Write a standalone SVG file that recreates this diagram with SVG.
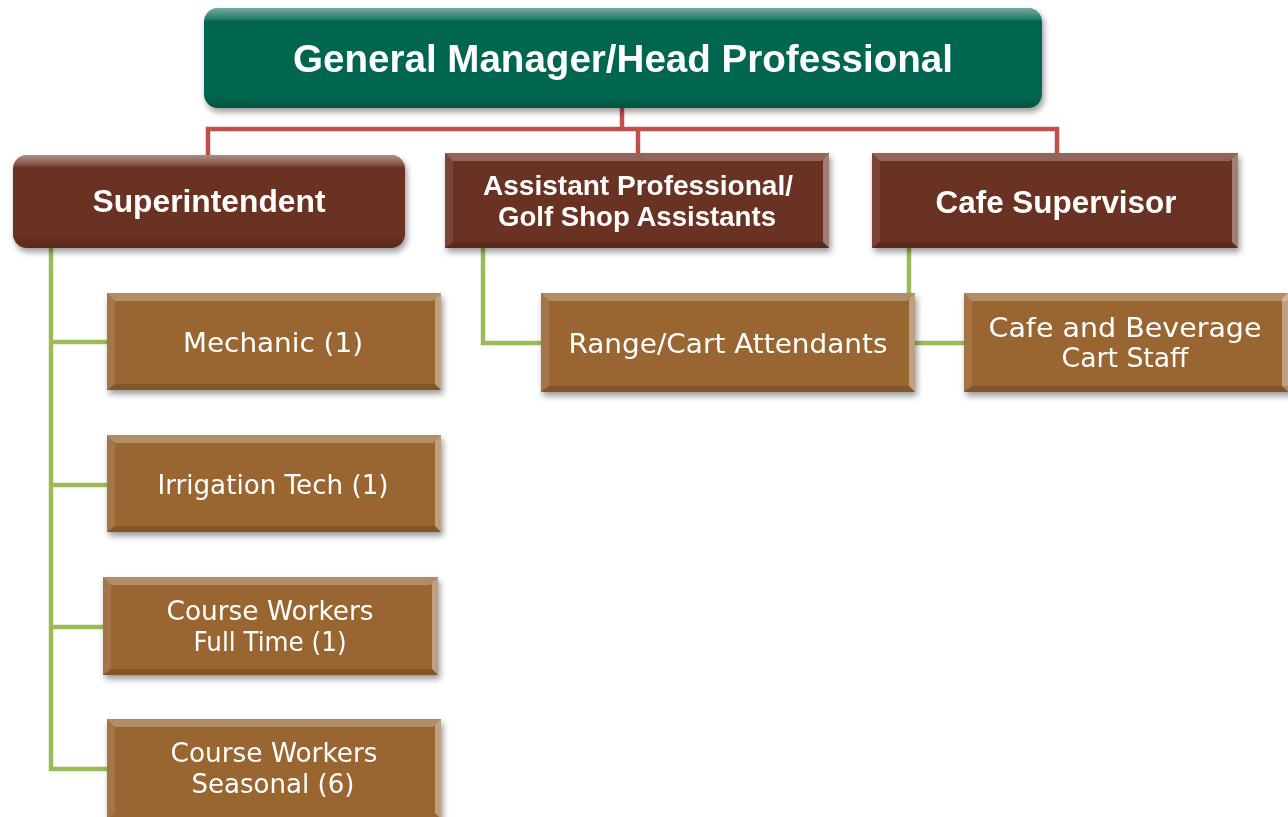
<svg xmlns="http://www.w3.org/2000/svg" width="1288" height="817" viewBox="0 0 1288 817">
  <style>
    .lineRed { fill: none; stroke: #c0504d; stroke-width: 4.5; }
    .lineGreen { fill: none; stroke: #9bbb59; stroke-width: 4.5; }
    .teal { fill: #00664f; }
    .maroon { fill: #6b3021; }
    .tan { fill: #996633; }
    .bvTop { fill: #ffffff; fill-opacity: 0.26; }
    .bvRight { fill: #ffffff; fill-opacity: 0.38; }
    .bvLeft { fill: #ffffff; fill-opacity: 0.1; }
    .bvBottom { fill: #000000; fill-opacity: 0.14; }
    .head { font-family: "Liberation Sans", Arial, sans-serif; font-weight: bold; fill: #ffffff; text-anchor: middle; }
    .body { font-family: "DejaVu Sans", "Liberation Sans", sans-serif; fill: #ffffff; text-anchor: middle; font-size: 27px; }
  </style>
  <defs>
    <filter id="shadow" x="-5%" y="-10%" width="112%" height="130%">
      <feDropShadow dx="2" dy="4" stdDeviation="3" flood-color="#000000" flood-opacity="0.4"/>
    </filter>
    <linearGradient id="roundShade" x1="0" y1="0" x2="0" y2="1">
      <stop offset="0" stop-color="#ffffff" stop-opacity="0.45"/>
      <stop offset="0.1" stop-color="#ffffff" stop-opacity="0.18"/>
      <stop offset="0.14" stop-color="#ffffff" stop-opacity="0"/>
      <stop offset="0.88" stop-color="#000000" stop-opacity="0"/>
      <stop offset="1" stop-color="#000000" stop-opacity="0.18"/>
    </linearGradient>
  </defs>

  <!-- connectors -->
  <g id="connectors">
    <path class="lineRed" d="M622 108 V129 M208 157 V129 H1057 V155 M638 129 V155"/>
    <path class="lineGreen" d="M51 248 V769 H107 M51 342 H107 M51 485 H107 M51 627 H103"/>
    <path class="lineGreen" d="M483 248 V343 H541"/>
    <path class="lineGreen" d="M909 248 V343 H964"/>
  </g>

  <!-- top level -->
  <g id="general-manager" filter="url(#shadow)">
    <rect class="teal" x="204" y="8" width="838" height="100" rx="14"/>
    <rect x="204" y="8" width="838" height="100" rx="14" fill="url(#roundShade)"/>
    <text class="head" x="623" y="72" font-size="38" textLength="660" lengthAdjust="spacingAndGlyphs">General Manager/Head Professional</text>
  </g>

  <!-- second level -->
  <g id="superintendent" filter="url(#shadow)">
    <rect class="maroon" x="13" y="155" width="392" height="93" rx="14"/>
    <rect x="13" y="155" width="392" height="93" rx="14" fill="url(#roundShade)"/>
    <text class="head" x="209" y="212" font-size="32" textLength="233" lengthAdjust="spacingAndGlyphs">Superintendent</text>
  </g>

  <g id="assistant-professional" filter="url(#shadow)">
    <rect class="maroon" x="445" y="153" width="384" height="95"/>
    <polygon class="bvTop" points="445,153 829,153 821,161 453,161"/>
    <polygon class="bvRight" points="829,153 829,248 823,242 823,159"/>
    <polygon class="bvLeft" points="445,153 453,161 453,242 445,248"/>
    <polygon class="bvBottom" points="445,248 829,248 823,242 453,242"/>
    <text class="head" x="638" y="195" font-size="28" textLength="310" lengthAdjust="spacingAndGlyphs">Assistant Professional/</text>
    <text class="head" x="637" y="226" font-size="28" textLength="278" lengthAdjust="spacingAndGlyphs">Golf Shop Assistants</text>
  </g>

  <g id="cafe-supervisor" filter="url(#shadow)">
    <rect class="maroon" x="872" y="153" width="366" height="95"/>
    <polygon class="bvTop" points="872,153 1238,153 1230,161 880,161"/>
    <polygon class="bvRight" points="1238,153 1238,248 1232,242 1232,159"/>
    <polygon class="bvLeft" points="872,153 880,161 880,242 872,248"/>
    <polygon class="bvBottom" points="872,248 1238,248 1232,242 880,242"/>
    <text class="head" x="1056" y="213" font-size="32" textLength="241" lengthAdjust="spacingAndGlyphs">Cafe Supervisor</text>
  </g>

  <!-- third level -->
  <g id="mechanic" filter="url(#shadow)">
    <rect class="tan" x="107" y="293" width="334" height="97"/>
    <polygon class="bvTop" points="107,293 441,293 433,301 115,301"/>
    <polygon class="bvRight" points="441,293 441,390 435,384 435,299"/>
    <polygon class="bvLeft" points="107,293 115,301 115,384 107,390"/>
    <polygon class="bvBottom" points="107,390 441,390 435,384 115,384"/>
    <text class="body" x="273" y="352" textLength="180" lengthAdjust="spacingAndGlyphs">Mechanic (1)</text>
  </g>

  <g id="irrigation-tech" filter="url(#shadow)">
    <rect class="tan" x="107" y="435" width="334" height="97"/>
    <polygon class="bvTop" points="107,435 441,435 433,443 115,443"/>
    <polygon class="bvRight" points="441,435 441,532 435,526 435,441"/>
    <polygon class="bvLeft" points="107,435 115,443 115,526 107,532"/>
    <polygon class="bvBottom" points="107,532 441,532 435,526 115,526"/>
    <text class="body" x="273" y="494" textLength="231" lengthAdjust="spacingAndGlyphs">Irrigation Tech (1)</text>
  </g>

  <g id="course-workers-full-time" filter="url(#shadow)">
    <rect class="tan" x="103" y="577" width="335" height="98"/>
    <polygon class="bvTop" points="103,577 438,577 430,585 111,585"/>
    <polygon class="bvRight" points="438,577 438,675 432,669 432,583"/>
    <polygon class="bvLeft" points="103,577 111,585 111,669 103,675"/>
    <polygon class="bvBottom" points="103,675 438,675 432,669 111,669"/>
    <text class="body" x="270" y="620" textLength="207" lengthAdjust="spacingAndGlyphs">Course Workers</text>
    <text class="body" x="270" y="651" textLength="153" lengthAdjust="spacingAndGlyphs">Full Time (1)</text>
  </g>

  <g id="course-workers-seasonal" filter="url(#shadow)">
    <rect class="tan" x="107" y="719" width="334" height="100"/>
    <polygon class="bvTop" points="107,719 441,719 433,727 115,727"/>
    <polygon class="bvRight" points="441,719 441,819 435,813 435,725"/>
    <polygon class="bvLeft" points="107,719 115,727 115,813 107,819"/>
    <text class="body" x="274" y="762" textLength="207" lengthAdjust="spacingAndGlyphs">Course Workers</text>
    <text class="body" x="273" y="793" textLength="163" lengthAdjust="spacingAndGlyphs">Seasonal (6)</text>
  </g>

  <g id="range-cart-attendants" filter="url(#shadow)">
    <rect class="tan" x="541" y="293" width="374" height="99"/>
    <polygon class="bvTop" points="541,293 915,293 907,301 549,301"/>
    <polygon class="bvRight" points="915,293 915,392 909,386 909,299"/>
    <polygon class="bvLeft" points="541,293 549,301 549,386 541,392"/>
    <polygon class="bvBottom" points="541,392 915,392 909,386 549,386"/>
    <text class="body" x="728" y="353" textLength="319" lengthAdjust="spacingAndGlyphs">Range/Cart Attendants</text>
  </g>

  <g id="cafe-beverage-cart-staff" filter="url(#shadow)">
    <rect class="tan" x="964" y="293" width="330" height="99"/>
    <polygon class="bvTop" points="964,293 1294,293 1286,301 972,301"/>
    <polygon class="bvRight" points="1288,293 1288,392 1282,386 1282,299"/>
    <polygon class="bvLeft" points="964,293 972,301 972,386 964,392"/>
    <polygon class="bvBottom" points="964,392 1294,392 1288,386 972,386"/>
    <text class="body" x="1125" y="337" textLength="273" lengthAdjust="spacingAndGlyphs">Cafe and Beverage</text>
    <text class="body" x="1125" y="367" textLength="127" lengthAdjust="spacingAndGlyphs">Cart Staff</text>
  </g>
</svg>
